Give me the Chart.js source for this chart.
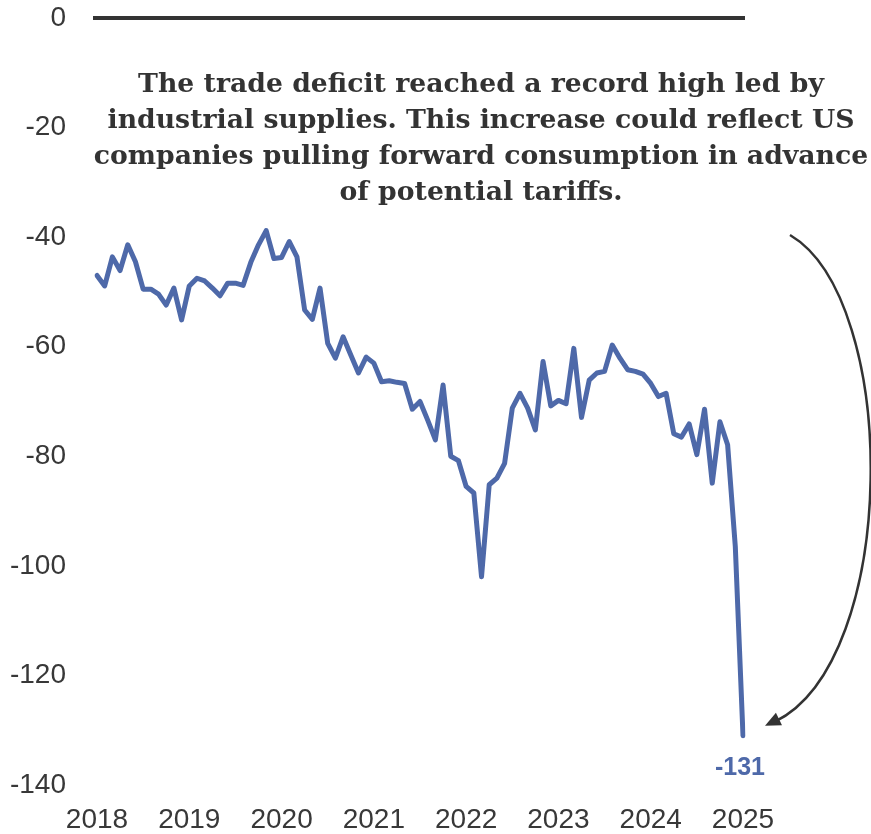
<!DOCTYPE html>
<html>
<head>
<meta charset="utf-8">
<script src="https://cdn.jsdelivr.net/npm/chart.js@4"></script>
<style>
  html, body { margin: 0; padding: 0; background: #fff; }
  canvas { display: block; }
</style>
</head>
<body>
<canvas id="balanceChart" width="871" height="834"></canvas>
<script>
// Monthly trade balance, Jan 2018 - Jan 2025 (billions USD)
const years = [2018, 2019, 2020, 2021, 2022, 2023, 2024, 2025];
const monthNames = ['Jan', 'Feb', 'Mar', 'Apr', 'May', 'Jun', 'Jul', 'Aug', 'Sep', 'Oct', 'Nov', 'Dec'];

const balance2018 = [-47.0, -48.9, -43.6, -46.1, -41.4, -44.5, -49.5, -49.5, -50.4, -52.4, -49.3, -55.1];
const balance2019 = [-48.9, -47.5, -48.0, -49.3, -50.7, -48.4, -48.4, -48.8, -44.6, -41.4, -38.8, -43.9];
const balance2020 = [-43.7, -40.8, -43.6, -53.3, -55.0, -49.3, -59.4, -62.1, -58.2, -61.5, -64.8, -61.9];
const balance2021 = [-63.0, -66.4, -66.2, -66.5, -66.7, -71.4, -70.0, -73.4, -77.0, -67.0, -80.0, -80.8];
const balance2022 = [-85.5, -86.7, -102.0, -85.2, -84.0, -81.3, -71.2, -68.5, -71.2, -75.2, -62.7, -70.8];
const balance2023 = [-69.8, -70.4, -60.3, -72.9, -66.1, -64.8, -64.5, -59.7, -62.1, -64.2, -64.5, -65.0];
const balance2024 = [-66.7, -69.1, -68.5, -75.9, -76.5, -74.1, -79.7, -71.4, -84.9, -73.7, -77.9, -96.5];
const balance2025 = [-131];

const yTicks = [0, -20, -40, -60, -80, -100, -120, -140];

const noteLines = [
    'The trade deficit reached a record high led by',
    'industrial supplies. This increase could reflect US',
    'companies pulling forward consumption in advance',
    'of potential tariffs.'
];

const balance = [].concat(balance2018, balance2019, balance2020, balance2021,
    balance2022, balance2023, balance2024, balance2025);
const months = [];
years.forEach(yr => monthNames.forEach(m => months.push(m + ' ' + yr)));
months.length = balance.length;

const LINE_BLUE = '#4e69a9';
const INK = '#383838';
const AXIS_FONT = { family: '"Liberation Sans", Arial, sans-serif', size: 28 };

// thick rule along the zero value
const zeroLine = {
    id: 'zeroLine',
    beforeDatasetsDraw(chart) {
        const { ctx, chartArea, scales: { y } } = chart;
        const py = y.getPixelForValue(0);
        ctx.save();
        ctx.strokeStyle = '#333';
        ctx.lineWidth = 4;
        ctx.beginPath();
        ctx.moveTo(chartArea.left - 4, py);
        ctx.lineTo(chartArea.right + 2, py);
        ctx.stroke();
        ctx.restore();
    }
};

// note text, value label on the last point and the curved arrow
const callouts = {
    id: 'callouts',
    afterDraw(chart) {
        const { ctx, scales: { x, y } } = chart;
        const last = balance.length - 1;
        const px = x.getPixelForValue(last);
        const py = y.getPixelForValue(balance[last]);

        ctx.save();
        ctx.fillStyle = '#333';
        ctx.textAlign = 'center';
        ctx.textBaseline = 'middle';
        ctx.font = 'bold 26.7px "DejaVu Serif", serif';
        noteLines.forEach((line, i) => ctx.fillText(line, 481, 85 + i * 36));

        ctx.fillStyle = LINE_BLUE;
        ctx.font = 'bold 25px "Liberation Sans", Arial, sans-serif';
        ctx.fillText(String(Math.round(balance[last])), px - 3, py + 32);

        const endX = px + 22, endY = py - 10;
        ctx.strokeStyle = '#333';
        ctx.lineWidth = 2.5;
        ctx.beginPath();
        ctx.moveTo(790, 235);
        ctx.bezierCurveTo(900, 300, 900, 660, endX + 10, endY - 4);
        ctx.stroke();

        const ang = Math.atan2(endY - 660, endX - 900);
        ctx.fillStyle = '#333';
        ctx.beginPath();
        ctx.moveTo(endX, endY);
        ctx.lineTo(endX - 17 * Math.cos(ang - 0.42), endY - 17 * Math.sin(ang - 0.42));
        ctx.lineTo(endX - 17 * Math.cos(ang + 0.42), endY - 17 * Math.sin(ang + 0.42));
        ctx.closePath();
        ctx.fill();
        ctx.restore();
    }
};

new Chart(document.getElementById('balanceChart'), {
    type: 'line',
    data: {
        labels: months,
        datasets: [{
            label: 'Trade balance',
            data: balance,
            borderColor: LINE_BLUE,
            borderWidth: 5,
            pointRadius: 0,
            tension: 0,
            borderJoinStyle: 'round',
            borderCapStyle: 'round',
            fill: false
        }]
    },
    options: {
        responsive: false,
        animation: false,
        devicePixelRatio: 1,
        layout: { padding: { left: 10, right: 128, top: 18, bottom: 0 } },
        plugins: {
            legend: { display: false },
            tooltip: { enabled: false }
        },
        scales: {
            x: {
                type: 'category',
                grid: { display: false, drawTicks: false },
                border: { display: false },
                afterFit: scale => { scale.height = 49; },
                ticks: {
                    autoSkip: false,
                    maxRotation: 0,
                    minRotation: 0,
                    padding: 18,
                    color: INK,
                    font: AXIS_FONT,
                    callback: (val, i) => i % 12 === 0 ? months[i].slice(4) : ''
                }
            },
            y: {
                min: yTicks[yTicks.length - 1],
                max: yTicks[0],
                grid: { display: false, drawTicks: false },
                border: { display: false },
                afterBuildTicks: scale => { scale.ticks = yTicks.map(v => ({ value: v })); },
                afterFit: scale => {
                    scale.width = 87;
                    scale.paddingTop = 0;
                    scale.paddingBottom = 0;
                },
                ticks: {
                    padding: 31,
                    color: INK,
                    font: AXIS_FONT
                }
            }
        }
    },
    plugins: [zeroLine, callouts]
});
</script>
</body>
</html>
